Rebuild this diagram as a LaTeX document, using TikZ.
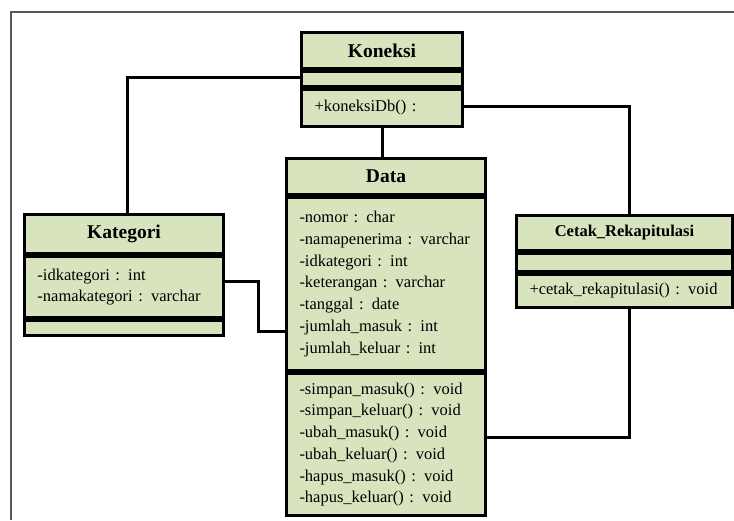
\documentclass[tikz,border=0pt]{standalone}
\usepackage{fontspec}
\setmainfont{Liberation Serif}
\usetikzlibrary{positioning}
\definecolor{umlgreen}{HTML}{D7E4BD}
\tikzset{
  part/.style={draw, line width=3pt, fill=umlgreen, inner sep=0pt},
  head/.style={part, font=\bfseries\fontsize{19.5}{22}\selectfont},
  body/.style={part, align=left, inner xsep=13pt, font=\fontsize{16.5}{21.7}\selectfont},
  link/.style={line width=3pt},
}
\begin{document}
\begin{tikzpicture}[x=1pt, y=-1pt]
\useasboundingbox (0,0) rectangle (734,520);
\draw[gray!70!black, line width=1.5pt] (11,520) |- (734,12);

% Koneksi
\node[head, anchor=north west, minimum width=161pt, minimum height=36pt] (kon-title) at (300,31) {Koneksi};
\node[part, below=0pt of kon-title, minimum width=161pt, minimum height=15pt] (kon-attr) {};
\node[body, below=0pt of kon-attr, text width=135pt, minimum height=37pt] (kon-ops) {+koneksiDb() :};

% Kategori
\node[head, anchor=north west, minimum width=199pt, minimum height=39pt] (kat-title) at (23,213) {Kategori};
\node[body, below=0pt of kat-title, text width=173pt, minimum height=61pt] (kat-attr)
  {-idkategori : int\\-namakategori : varchar};
\node[part, below=0pt of kat-attr, minimum width=199pt, minimum height=15pt] (kat-ops) {};

% Data
\node[head, anchor=north west, minimum width=199pt, minimum height=36pt] (dat-title) at (285,157) {Data};
\node[body, below=0pt of dat-title, text width=173pt, minimum height=173pt] (dat-attr)
  {-nomor : char\\-namapenerima : varchar\\-idkategori : int\\-keterangan : varchar\\
   -tanggal : date\\-jumlah\_masuk : int\\-jumlah\_keluar : int};
\node[body, below=0pt of dat-attr, text width=173pt, minimum height=142pt] (dat-ops)
  {-simpan\_masuk() : void\\-simpan\_keluar() : void\\-ubah\_masuk() : void\\
   -ubah\_keluar() : void\\-hapus\_masuk() : void\\-hapus\_keluar() : void};

% Cetak_Rekapitulasi
\node[head, font=\bfseries\fontsize{16.5}{20}\selectfont, anchor=north west, minimum width=216pt, minimum height=35pt] (cet-title) at (515,214) {Cetak\_Rekapitulasi};
\node[part, below=0pt of cet-title, minimum width=216pt, minimum height=18pt] (cet-attr) {};
\node[body, below=0pt of cet-attr, text width=190pt, minimum height=33pt] (cet-ops) {+cetak\_rekapitulasi() : void};

% connectors
\draw[link] ([yshift=2pt]kon-attr.west) -| ([xshift=3pt]kat-title.north);
\draw[link] ([yshift=1.5pt]kon-ops.east) -| ([xshift=5pt]cet-title.north);
\draw[link] (kon-ops.south) -- (kon-ops.south |- dat-title.north);
\draw[link] ([yshift=5.5pt]kat-attr.east) -- ++(33,0) |- ([yshift=-47.5pt]dat-attr.west);
\draw[link] ([xshift=5pt]cet-ops.south) |- ([yshift=7pt]dat-ops.east);
\end{tikzpicture}
\end{document}
